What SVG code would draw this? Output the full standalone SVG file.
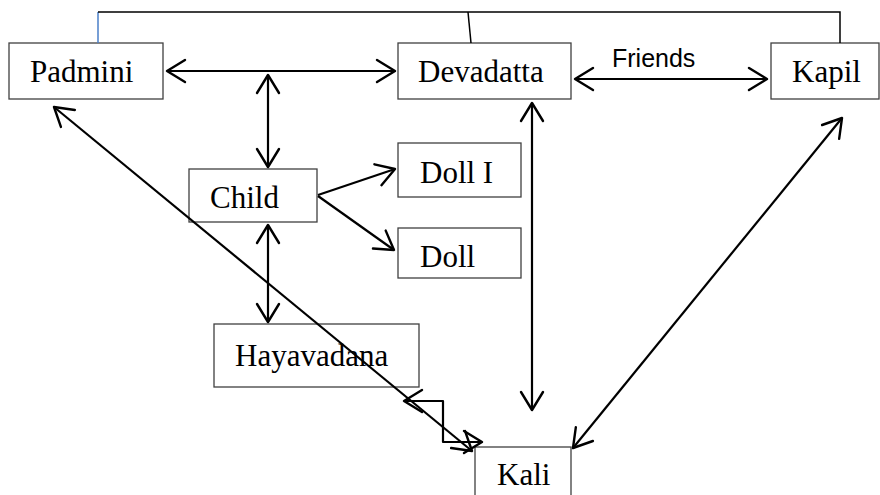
<svg xmlns="http://www.w3.org/2000/svg" width="880" height="495" viewBox="0 0 880 495">
<style>
.box{fill:#fff;stroke:#404040;stroke-width:1.3}
.lbl{font-family:"Liberation Serif","Times New Roman",serif;font-size:31px;fill:#000}
.cn{fill:none;stroke:#000;stroke-width:2.2;stroke-linejoin:round}
.thin{fill:none;stroke:#000;stroke-width:1.5}
</style>
<defs>
<marker id="ah" viewBox="-21 -13 23 26" refX="0" refY="0" markerUnits="userSpaceOnUse" markerWidth="23" markerHeight="26" orient="auto-start-reverse">
<path d="M-18,-11 L0,0 L-18,11" fill="none" stroke="#000" stroke-width="2.4" stroke-linejoin="round" stroke-linecap="round"/>
</marker>
</defs>
<rect width="880" height="495" fill="#fff"/>
<g id="padmini"><rect class="box" x="9" y="43" width="154" height="56"/><text class="lbl" x="30" y="82">Padmini</text></g>
<g id="devadatta"><rect class="box" x="398" y="43" width="173" height="56"/><text class="lbl" x="418" y="82">Devadatta</text></g>
<g id="kapil"><rect class="box" x="771" y="43" width="108" height="56"/><text class="lbl" x="792" y="82">Kapil</text></g>
<g id="child"><rect class="box" x="189" y="169" width="128" height="53"/><text class="lbl" x="210" y="208">Child</text></g>
<g id="dolli"><rect class="box" x="398" y="143" width="123" height="54"/><text class="lbl" x="420" y="183">Doll I</text></g>
<g id="doll"><rect class="box" x="398" y="228" width="123" height="50"/><text class="lbl" x="420" y="267">Doll</text></g>
<g id="hayavadana"><rect class="box" x="214" y="324" width="205" height="63"/><text class="lbl" x="235" y="366">Hayavadana</text></g>
<g id="kali"><rect class="box" x="475" y="447" width="96" height="60"/><text class="lbl" x="497" y="485">Kali</text></g>
<g id="connectors">
<line x1="98" y1="12" x2="98" y2="43" stroke="#4a7fc8" stroke-width="1.5"/>
<polyline class="thin" points="98,12 840,12 840,43"/>
<line class="thin" x1="468" y1="12" x2="471" y2="43"/>
<line class="cn" x1="167" y1="71" x2="395" y2="71" marker-start="url(#ah)" marker-end="url(#ah)"/>
<line class="cn" x1="268" y1="75" x2="268" y2="167" marker-start="url(#ah)" marker-end="url(#ah)"/>
<line class="cn" x1="575" y1="79" x2="767" y2="79" marker-start="url(#ah)" marker-end="url(#ah)"/>
<line class="cn" x1="318" y1="195" x2="395" y2="169" marker-end="url(#ah)"/>
<line class="cn" x1="318" y1="196" x2="394" y2="250" marker-end="url(#ah)"/>
<line class="cn" x1="268" y1="225" x2="268" y2="322" marker-start="url(#ah)" marker-end="url(#ah)"/>
<line class="cn" x1="532" y1="103" x2="532" y2="410" marker-start="url(#ah)" marker-end="url(#ah)"/>
<line class="cn" x1="842" y1="118" x2="573" y2="448" marker-start="url(#ah)" marker-end="url(#ah)"/>
<line class="cn" x1="54" y1="107" x2="472" y2="451" marker-start="url(#ah)" marker-end="url(#ah)"/>
<polyline class="cn" points="404,401 443,401 443,442 482,442" marker-start="url(#ah)" marker-end="url(#ah)"/>
<text x="612" y="67" font-family="'Liberation Sans',Arial,sans-serif" font-size="25" fill="#000">Friends</text>
</g>
</svg>
